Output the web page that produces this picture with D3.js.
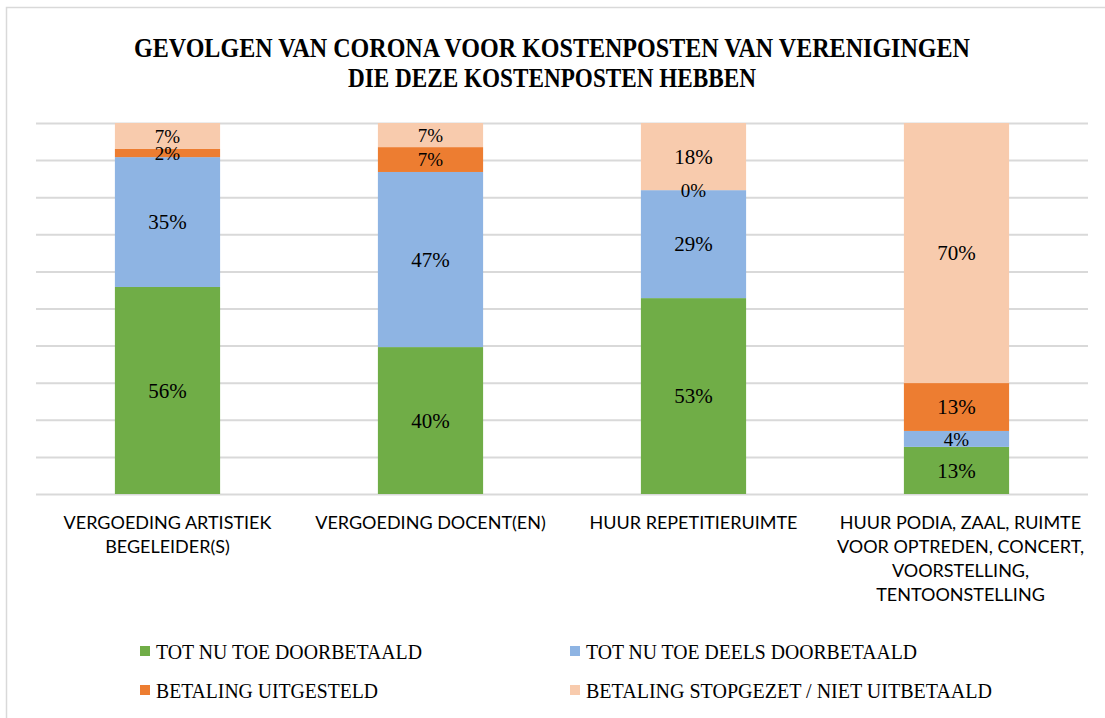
<!DOCTYPE html>
<html>
<head>
<meta charset="utf-8">
<script src="https://cdn.jsdelivr.net/npm/d3@7"></script>
<style>
  body { margin: 0; background: #fff; }
  .grid line { stroke: #d9d9d9; stroke-width: 2; }
  .grid path { display: none; }
</style>
</head>
<body>
<div id="vis-container"></div>
<script>
// Data (percent of each bar)
var categories = [
    ["VERGOEDING ARTISTIEK", "BEGELEIDER(S)"],
    ["VERGOEDING DOCENT(EN)"],
    ["HUUR REPETITIERUIMTE"],
    ["HUUR PODIA, ZAAL, RUIMTE", "VOOR OPTREDEN, CONCERT,", "VOORSTELLING,", "TENTOONSTELLING"]
];
var seriesNames = ["TOT NU TOE DOORBETAALD", "TOT NU TOE DEELS DOORBETAALD", "BETALING UITGESTELD", "BETALING STOPGEZET / NIET UITBETAALD"];
var doorbetaald = [55.8, 39.6, 52.8, 12.7];
var deelsDoorbetaald = [35.0, 47.2, 29.1, 4.3];
var uitgesteld = [2.2, 6.7, 0, 12.9];
var stopgezet = [7.0, 6.5, 18.1, 70.1];
var colors = ["#70ad47", "#8eb4e3", "#ed7d31", "#f8cbad"];
var titleLines = ["GEVOLGEN VAN CORONA VOOR KOSTENPOSTEN VAN VERENIGINGEN", "DIE DEZE KOSTENPOSTEN HEBBEN"];

var width = 1105, height = 718;
var margins = { top: 123, right: 17, bottom: 224, left: 36 };
var visWidth = width - margins.left - margins.right;
var visHeight = height - margins.top - margins.bottom;

var svg = d3.select("#vis-container").append("svg")
    .attr("width", width).attr("height", height);

// chart border (only top/left visible in the reference)
svg.append("rect").attr("x", 6.5).attr("y", 7.5).attr("width", width).attr("height", height)
    .attr("fill", "none").attr("stroke", "#d9d9d9").attr("stroke-width", 1.5);

// Title
svg.append("g").selectAll("text").data(titleLines).enter().append("text")
    .attr("x", 552).attr("y", function (d, i) { return 57 + i * 30; })
    .attr("text-anchor", "middle")
    .attr("font-family", "Liberation Serif")
    .attr("font-weight", "bold")
    .attr("font-size", 28)
    .attr("textLength", function (d, i) { return i === 0 ? 836 : 408; })
    .attr("lengthAdjust", "spacingAndGlyphs")
    .attr("fill", "#000")
    .text(function (d) { return d; });

var viewport = svg.append("g").attr("transform", "translate(" + margins.left + "," + margins.top + ")");

var rows = categories.map(function (c, i) {
    return { idx: i, s0: doorbetaald[i], s1: deelsDoorbetaald[i], s2: uitgesteld[i], s3: stopgezet[i] };
});
var keys = ["s0", "s1", "s2", "s3"];
var stacked = d3.stack().keys(keys)(rows);

var x = d3.scaleBand().domain(d3.range(categories.length)).range([0, visWidth]).paddingInner(0.6).paddingOuter(0.3);
var y = d3.scaleLinear().domain([0, 100]).range([visHeight, 0]);

// Gridlines
viewport.append("g").attr("class", "grid")
    .call(d3.axisLeft(y).tickValues(d3.range(0, 101, 10)).tickSize(-visWidth).tickFormat(""));

// Bars
var layers = viewport.selectAll(".layer").data(stacked).enter().append("g")
    .attr("class", "layer")
    .attr("fill", function (d, i) { return colors[i]; });

layers.selectAll("rect").data(function (d) { return d; }).enter().append("rect")
    .attr("x", function (d) { return x(d.data.idx); })
    .attr("width", x.bandwidth())
    .attr("y", function (d) { return y(d[1]); })
    .attr("height", function (d) { return y(d[0]) - y(d[1]); });

// Value labels (drawn after all bars so none is hidden)
var labelData = [];
stacked.forEach(function (s) { s.forEach(function (d) { labelData.push(d); }); });
viewport.append("g").selectAll("text").data(labelData).enter().append("text")
    .attr("x", function (d) { return x(d.data.idx) + x.bandwidth() / 2; })
    .attr("y", function (d) { return (y(d[0]) + y(d[1])) / 2; })
    .attr("dy", "0.35em")
    .attr("text-anchor", "middle")
    .attr("font-family", "Liberation Serif")
    .attr("font-size", function (d) { return (d[1] - d[0]) < 8 ? 19 : 21; })
    .attr("fill", "#000")
    .text(function (d) { return Math.round(d[1] - d[0]) + "%"; });

// Category labels
var catG = viewport.append("g").attr("transform", "translate(0," + visHeight + ")");
catG.selectAll("text").data(categories).enter().append("text")
    .attr("text-anchor", "middle")
    .attr("font-family", "Lato")
    .attr("font-size", 18)
    .attr("fill", "#000")
    .each(function (lines, i) {
        var t = d3.select(this);
        lines.forEach(function (l, j) {
            t.append("tspan")
                .attr("x", x(i) + x.bandwidth() / 2 + (i === 3 ? 4 : 0))
                .attr("y", 35 + j * 24)
                .text(l);
        });
    });

// Legend
var legendPos = [[140, 651], [570, 651], [140, 690], [570, 690]];
var legendW = [266, 331, 222, 406];
var legend = svg.append("g").selectAll("g").data(seriesNames).enter().append("g")
    .attr("transform", function (d, i) { return "translate(" + legendPos[i][0] + "," + legendPos[i][1] + ")"; });
legend.append("rect").attr("x", 0).attr("y", -5).attr("width", 10).attr("height", 10)
    .attr("fill", function (d, i) { return colors[i]; });
legend.append("text").attr("x", 16).attr("dy", "0.35em")
    .attr("font-family", "Liberation Serif")
    .attr("font-size", 22)
    .attr("textLength", function (d, i) { return legendW[i]; })
    .attr("lengthAdjust", "spacingAndGlyphs")
    .attr("fill", "#000")
    .text(function (d) { return d; });
</script>
</body>
</html>
